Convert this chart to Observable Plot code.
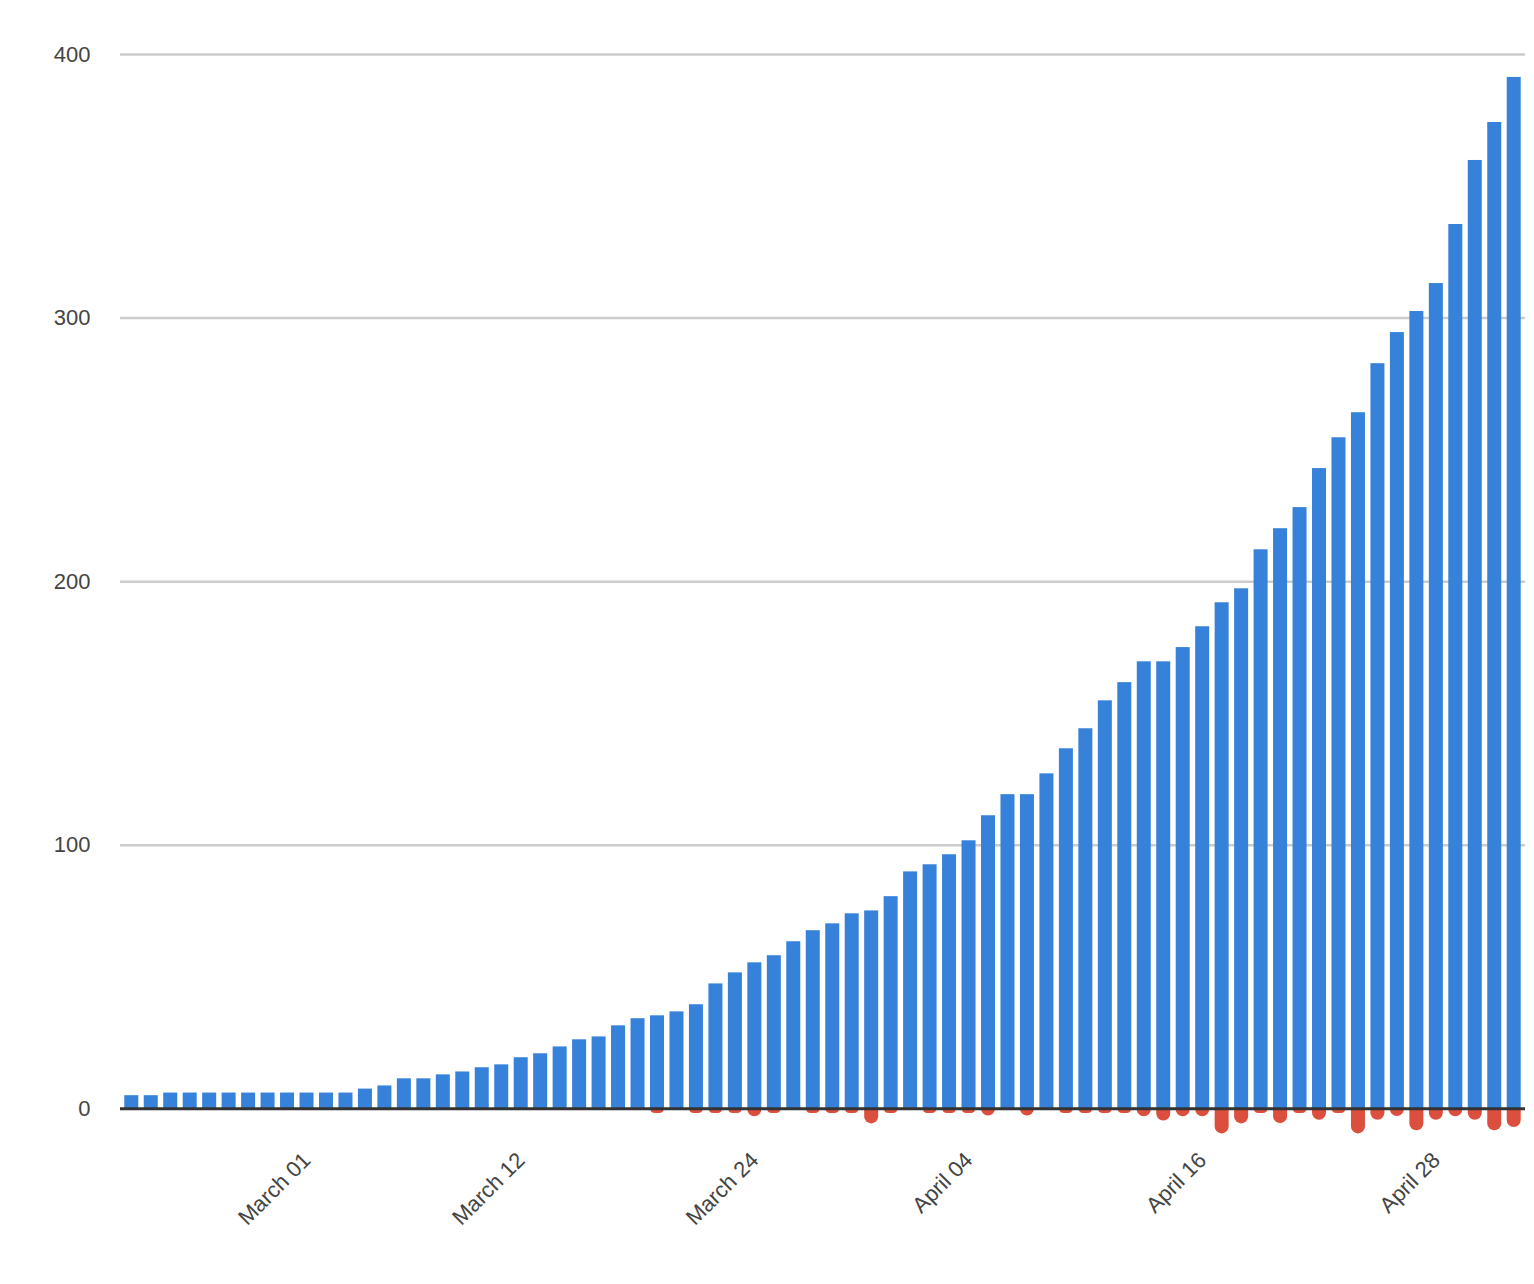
<!DOCTYPE html>
<html>
<head>
<meta charset="utf-8">
<script src="https://cdn.jsdelivr.net/npm/d3@7"></script>
<script src="https://cdn.jsdelivr.net/npm/@observablehq/plot@0.6"></script>
<style>
  html, body { margin: 0; padding: 0; background: #ffffff; }
  #chart svg { display: block; }
</style>
</head>
<body>
<div id="chart"></div>
<script>
// Categories: one bar per day
const startDay = "2020-02-21";
const dayCount = 72;
const days = d3.range(dayCount).map(i => d3.utcFormat("%Y-%m-%d")(d3.utcDay.offset(new Date(startDay + "T00:00:00Z"), i)));

// Positive series (blue)
const upValues = [
  5, 5, 6, 6, 6, 6, 6, 6, 6, 6, 6, 6,
  7.5, 8.7, 11.4, 11.4, 12.9, 14, 15.6, 16.7, 19.4, 20.9, 23.5, 26.2,
  27.3, 31.5, 34.2, 35.3, 36.8, 39.5, 47.4, 51.6, 55.4, 58.1, 63.4, 67.6,
  70.2, 74, 75.1, 80.5, 89.9, 92.6, 96.4, 101.7, 111.2, 119.2, 119.2, 127.1,
  136.6, 144.2, 154.8, 161.7, 169.6, 169.6, 175, 182.9, 192, 197.3, 212.1, 220.1,
  228.1, 242.9, 254.6, 264.1, 282.7, 294.5, 302.5, 313.1, 335.5, 359.8, 374.2, 391.3
];

// Negative series (red)
const downValues = [
  0, 0, 0, 0, 0, 0, 0, 0, 0, 0, 0, 0,
  0, 0, 0, 0, 0, 0, 0, 0, 0, 0, 0, 0,
  0, 0, 0, -1.8, 0, -1.8, -1.8, -1.8, -3.0, -1.8, 0, -1.8,
  -1.8, -1.8, -5.7, -1.8, 0, -1.8, -1.8, -1.8, -2.7, 0, -2.7, 0,
  -1.8, -1.8, -1.8, -1.8, -3.0, -4.6, -3.0, -3.0, -9.5, -5.7, -1.8, -5.6,
  -1.8, -4.3, -1.8, -9.5, -4.3, -2.9, -8.3, -4.3, -3.0, -4.3, -8.3, -7.1
];

// Axis ticks
const yTicks = [0, 100, 200, 300, 400];
const xTickDays = ["2020-03-01", "2020-03-12", "2020-03-24", "2020-04-04", "2020-04-16", "2020-04-28"];
const xTickLabels = ["March 01", "March 12", "March 24", "April 04", "April 16", "April 28"];

const labelByDay = new Map(xTickDays.map((d, i) => [d, xTickLabels[i]]));
const data = days.map((d, i) => ({day: d, up: upValues[i], down: downValues[i]}));

const chart = Plot.plot({
  width: 1534,
  height: 1284,
  marginTop: 54,
  marginBottom: 144,
  marginLeft: 120,
  marginRight: 9,
  style: {fontFamily: "Arial, 'Liberation Sans', sans-serif", fontSize: "22px", color: "#444", background: "#ffffff"},
  x: {type: "band", domain: days, paddingInner: 0.281, paddingOuter: 0.22, label: null},
  y: {domain: [-12, 400], label: null},
  marks: [
    Plot.ruleY(yTicks.filter(t => t > 0), {stroke: "#cccccc", strokeWidth: 2.5}),
    Plot.axisY({ticks: yTicks, tickSize: 0, tickPadding: 30, fontSize: 22, fill: "#444", label: null}),
    Plot.axisX({ticks: xTickDays, tickFormat: d => labelByDay.get(d), tickRotate: -45, tickSize: 0, tickPadding: 16, fontSize: 22, fill: "#444", label: null}),
    Plot.barY(data.filter(d => d.down < 0), {x: "day", y: "down", fill: "#dc4f3f", ry2: 7}),
    Plot.barY(data, {x: "day", y: "up", fill: "#3681d9"}),
    Plot.ruleY([0], {stroke: "#333333", strokeWidth: 3})
  ]
});
document.getElementById("chart").append(chart);
</script>
</body>
</html>
